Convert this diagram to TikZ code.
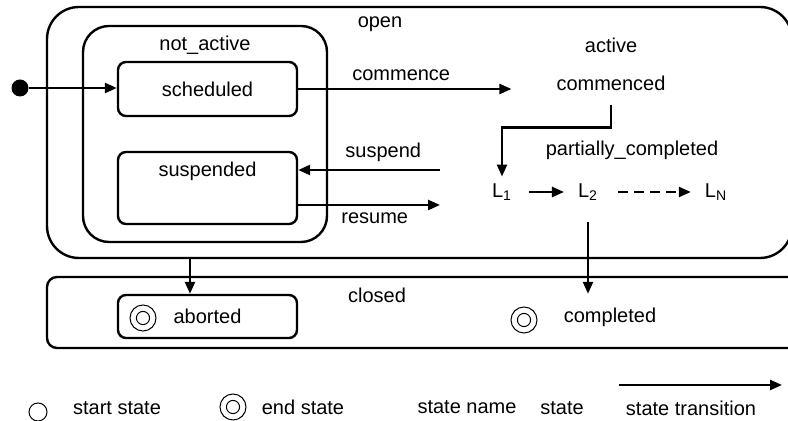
\documentclass[tikz,border=0pt]{standalone}
\usepackage{fontspec}
\setmainfont{Liberation Sans}
\usetikzlibrary{positioning, arrows.meta}

\tikzset{
  region/.style={draw, line width=1.2pt, inner sep=0pt},
  statebox/.style={draw, line width=1.2pt, rounded corners=4pt, minimum width=89.5pt, inner sep=0pt},
  trans/.style={->, line width=1.2pt},
  endmark/.style={circle, draw, line width=0.5pt, minimum size=13pt, inner sep=0pt,
    path picture={\draw[line width=0.5pt] (path picture bounding box.center) circle (3.3pt);}},
  startmark/.style={circle, draw, line width=0.5pt, minimum size=9pt, inner sep=0pt},
}

\begin{document}
\begin{tikzpicture}[x=0.5pt, y=-0.5pt, >={Triangle[length=6pt,width=5pt]},
  font=\fontsize{10}{12}\selectfont]
  \useasboundingbox (0,0) rectangle (788,421);

  % regions
  \node (open) [region, rounded corners=16pt, minimum width=372.5pt, minimum height=125.5pt] at (419.5,132.5) {};
  \node (notactive) [region, rounded corners=13pt, minimum width=122pt, minimum height=108pt] at (205,134) {};
  \node (closed) [region, rounded corners=5pt, minimum width=376.5pt, minimum height=35.5pt] at (423.5,312.5) {};

  % region names
  \node (openname) at (380,24) {open};
  \node (notactivename) at (205,45) {not\_active};
  \node (activename) at (611,45) {active};
  \node (partialname) at (632,150) {partially\_completed};
  \node (closedname) at (377,295) {closed};

  % states
  \node (start) [circle, fill, minimum size=8.5pt, inner sep=0pt] at (20,88) {};
  \node (scheduled) [statebox, minimum height=27pt] at (207.5,89) {scheduled};
  \node (suspended) [statebox, minimum height=36pt,
    label={[anchor=north, yshift=-2pt]north:suspended}] at (207.5,188) {};
  \node (commenced) at (611,83) {commenced};
  \node (L1) at (502,192) {L\textsubscript{1}};
  \node (L2) [on grid, right=43pt of L1] {L\textsubscript{2}};
  \node (LN) [on grid, right=64pt of L2] {L\textsubscript{N}};
  \node (aborted) [statebox, minimum height=21.5pt] at (207.5,316.5) {aborted};
  \node (abortedend) [endmark] at (143,318) {};
  \node (completed) at (610,317) {completed};
  \node (completedend) [endmark] at (524,320) {};

  \coordinate (suspendin) at (440,170);
  \coordinate (resumeout) at (440,205);
  \coordinate (abortline) at (190,258);

  % transitions
  \draw[trans] (start) -- (start -| scheduled.west);
  \draw[trans, shorten >=19pt] (scheduled.east) -- (scheduled.east -| commenced.west)
    node[pos=0.41, above] {commence};
  \draw[trans] ([yshift=-4pt]commenced.south) -- ++(0,22) -| (L1.north);
  \draw[trans] (suspendin) -- (suspendin -| suspended.east)
    node[pos=0.4, above] {suspend};
  \draw[trans] (resumeout -| suspended.east) -- (resumeout)
    node[pos=0.54, below] {resume};
  \draw[trans, shorten <=5pt, shorten >=3.5pt] (L1) -- (L2);
  \draw[trans, dash pattern=on 5pt off 3pt, shorten <=6.5pt, shorten >=3.5pt] (L2) -- (LN);
  \draw[trans] (abortline) -- (abortline |- aborted.north);
  \draw[trans, shorten <=7.5pt] (L2.south) -- ([yshift=-9pt]L2 |- closed.north);

  % legend
  \node (legstart) [startmark] at (38,412) {};
  \node (legstarttext) at (117,408) {start state};
  \node (legend) [endmark] at (233,407) {};
  \node (legendtext) at (303,407) {end state};
  \node (legname) at (467,407) {state name};
  \node (legstate) at (562,408) {state};
  \node (legtrans) at (691,408) {state transition};
  \coordinate (legfrom) at (619,385);
  \coordinate (legto) at (782,385);
  \draw[trans] (legfrom) -- (legto);
\end{tikzpicture}
\end{document}
